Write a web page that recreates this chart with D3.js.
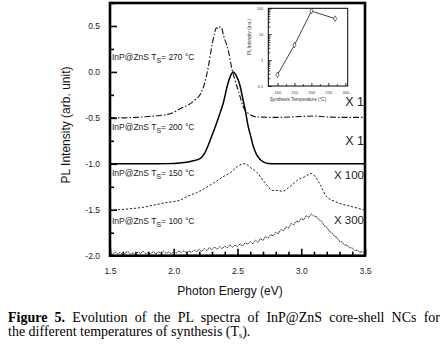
<!DOCTYPE html>
<html><head><meta charset="utf-8">
<script src="https://cdn.jsdelivr.net/npm/d3@7"></script>
<style>body{margin:0;background:#fff} svg{display:block}</style>
</head><body><svg id="c" width="446" height="352"></svg>
<script>
// ---------------- DATA ----------------
const energy270 = [1.50,1.60,1.70,1.80,1.89,2.00,2.05,2.13,2.17,2.21,2.245,2.27,2.30,2.32,2.335,2.35,2.36,2.375,2.39,2.43,2.455,2.48,2.51,2.545,2.585,2.65,2.80,3.00,3.10,3.20,3.35,3.50];
const intensity270 = [-0.50,-0.50,-0.495,-0.485,-0.475,-0.44,-0.40,-0.345,-0.30,-0.24,-0.11,0.05,0.29,0.42,0.48,0.47,0.49,0.48,0.40,0.22,0.04,-0.09,-0.22,-0.38,-0.45,-0.49,-0.495,-0.485,-0.48,-0.49,-0.495,-0.495];

const energy200 = [1.50,1.80,1.95,2.05,2.13,2.21,2.24,2.27,2.30,2.33,2.36,2.39,2.42,2.44,2.467,2.49,2.52,2.54,2.56,2.585,2.60,2.625,2.65,2.676,2.71,2.74,2.80,3.50];
const intensity200 = [-1.0,-1.0,-0.998,-0.99,-0.975,-0.94,-0.89,-0.80,-0.69,-0.58,-0.46,-0.33,-0.15,-0.06,0.0,-0.04,-0.15,-0.28,-0.41,-0.60,-0.68,-0.815,-0.90,-0.95,-0.985,-0.997,-1.0,-1.0];

const energy150 = [1.50,1.55,1.65,1.75,1.84,1.95,2.05,2.10,2.20,2.31,2.40,2.44,2.50,2.545,2.56,2.60,2.65,2.70,2.73,2.77,2.82,2.85,2.91,2.98,3.03,3.08,3.11,3.15,3.20,3.265,3.30,3.40,3.50];
const intensity150 = [-1.50,-1.50,-1.49,-1.475,-1.45,-1.42,-1.395,-1.36,-1.30,-1.21,-1.13,-1.10,-1.03,-1.0,-1.0,-1.04,-1.09,-1.18,-1.23,-1.29,-1.29,-1.30,-1.25,-1.17,-1.14,-1.105,-1.14,-1.23,-1.36,-1.41,-1.43,-1.467,-1.505];

const energy100 = [1.50,1.52,1.54,1.56,1.58,1.60,1.62,1.64,1.66,1.68,1.70,1.72,1.74,1.76,1.78,1.80,1.82,1.84,1.86,1.88,1.90,1.92,1.94,1.96,1.98,2.00,2.02,2.04,2.06,2.08,2.10,2.12,2.14,2.16,2.18,2.20,2.22,2.24,2.26,2.28,2.30,2.32,2.34,2.36,2.38,2.40,2.42,2.44,2.46,2.48,2.50,2.52,2.54,2.56,2.58,2.60,2.62,2.64,2.66,2.68,2.70,2.72,2.74,2.76,2.78,2.80,2.82,2.84,2.86,2.88,2.90,2.92,2.94,2.96,2.98,3.00,3.02,3.04,3.06,3.08,3.10,3.12,3.14,3.16,3.18,3.20,3.22,3.24,3.26,3.28,3.30,3.32,3.34,3.36,3.38,3.40,3.42,3.44,3.46,3.48,3.50];
const intensity100 = [-1.97,-1.985,-1.96,-1.98,-1.965,-1.99,-1.97,-1.955,-1.98,-1.97,-1.985,-1.96,-1.975,-1.95,-1.98,-1.965,-1.975,-1.955,-1.98,-1.96,-1.97,-1.95,-1.975,-1.96,-1.98,-1.955,-1.97,-1.95,-1.965,-1.945,-1.97,-1.95,-1.96,-1.94,-1.955,-1.93,-1.955,-1.92,-1.945,-1.91,-1.935,-1.905,-1.93,-1.90,-1.925,-1.895,-1.915,-1.88,-1.91,-1.885,-1.90,-1.87,-1.895,-1.86,-1.875,-1.845,-1.87,-1.83,-1.855,-1.815,-1.835,-1.79,-1.81,-1.77,-1.785,-1.745,-1.76,-1.715,-1.73,-1.685,-1.70,-1.65,-1.665,-1.625,-1.635,-1.595,-1.61,-1.565,-1.585,-1.545,-1.57,-1.575,-1.61,-1.625,-1.675,-1.69,-1.735,-1.75,-1.79,-1.80,-1.845,-1.85,-1.885,-1.885,-1.915,-1.915,-1.945,-1.94,-1.965,-1.955,-1.975];

const seriesLabels = ["InP@ZnS T|S|= 270 °C","InP@ZnS T|S|= 200 °C","InP@ZnS T|S|= 150 °C","InP@ZnS T|S|= 100 °C"];
const seriesLabelLevels = [0.135, -0.632, -1.138, -1.655];
const factorLabels = ["X 1","X 1","X 100","X 300"];
const factorLevels = [-0.37, -0.8, -1.17, -1.65];

const xMajorTicks = [1.5,2.0,2.5,3.0,3.5];
const yMajorTicks = [-2.0,-1.5,-1.0,-0.5,0.0,0.5];
const xAxisTitle = "Photon Energy (eV)";
const yAxisTitle = "PL Intensity (arb. unit)";

const insetTemps = [100,150,200,270];
const insetPL = [0.27,3.8,78,40];
const insetXTicks = [100,150,200,250,300];
const insetYTicks = [0.1,1,10,100];
const insetXTitle = "Synthesis Temperature (°C)";
const insetYTitle = "PL Intensity (a.u.)";

const captionBold = "Figure 5.";
const captionLine1 = " Evolution of the PL spectra of InP@ZnS core-shell NCs for";
const captionLine2a = "the different temperatures of synthesis (T";
const captionLine2sub = "s";
const captionLine2b = ").";

// ---------------- DRAW ----------------
const svg = d3.select("#c");
const sans = "'Liberation Sans', Arial, sans-serif";
const serif = "'Liberation Serif', 'Times New Roman', serif";
const L = 110, R = 365, T = 3, B = 255.7;
const x = d3.scaleLinear([1.5,3.5],[L,R]);
const y = d3.scaleLinear([-2,0.75],[B,T]);

svg.append("defs").append("clipPath").attr("id","clip")
  .append("rect").attr("x",L).attr("y",T).attr("width",R-L).attr("height",B-T);

const xMinor = d3.range(15,36).map(d=>d/10).filter(v=>!xMajorTicks.some(m=>Math.abs(m-v)<1e-9));
const yMinor = d3.range(-8,4).map(d=>d/4).filter(v=>!yMajorTicks.some(m=>Math.abs(m-v)<1e-9));

const gx = svg.append("g").attr("transform",`translate(0,${B})`)
  .call(d3.axisBottom(x).tickValues(xMajorTicks).tickSizeInner(-7).tickSizeOuter(0).tickPadding(12).tickFormat(d=>d.toFixed(1)));
const gxm = svg.append("g").attr("transform",`translate(0,${B})`)
  .call(d3.axisBottom(x).tickValues(xMinor).tickSizeInner(-4).tickSizeOuter(0).tickFormat(""));
const gy = svg.append("g").attr("transform",`translate(${L},0)`)
  .call(d3.axisLeft(y).tickValues(yMajorTicks).tickSizeInner(-7).tickSizeOuter(0).tickPadding(10).tickFormat(d=>d.toFixed(1)));
const gym = svg.append("g").attr("transform",`translate(${L},0)`)
  .call(d3.axisLeft(y).tickValues(yMinor).tickSizeInner(-4).tickSizeOuter(0).tickFormat(""));
[gx,gxm,gy,gym].forEach(g=>{
  g.select(".domain").remove();
  g.selectAll(".tick line").attr("stroke","#000").attr("stroke-width",1.6);
  g.selectAll("text").attr("font-family",sans).attr("font-size",8.5).attr("fill","#222");
});

const line = d3.line().x(d=>x(d[0])).y(d=>y(d[1]));
const plot = svg.append("g").attr("clip-path","url(#clip)");
plot.append("path").datum(d3.zip(energy270,intensity270))
  .attr("d",line.curve(d3.curveMonotoneX)).attr("fill","none").attr("stroke","#111")
  .attr("stroke-width",1.1).attr("stroke-dasharray","6,2,1.5,2");
plot.append("path").datum(d3.zip(energy200,intensity200))
  .attr("d",line.curve(d3.curveMonotoneX)).attr("fill","none").attr("stroke","#000").attr("stroke-width",1.5);
plot.append("path").datum(d3.zip(energy150,intensity150))
  .attr("d",line.curve(d3.curveMonotoneX)).attr("fill","none").attr("stroke","#222")
  .attr("stroke-width",1).attr("stroke-dasharray","2.2,1.8");
plot.append("path").datum(d3.zip(energy100,intensity100))
  .attr("d",line.curve(d3.curveLinear)).attr("fill","none").attr("stroke","#333")
  .attr("stroke-width",1).attr("stroke-dasharray","2,0.7");

svg.append("rect").attr("x",L).attr("y",T).attr("width",R-L).attr("height",B-T)
  .attr("fill","none").attr("stroke","#000").attr("stroke-width",2.6);

seriesLabels.forEach((s,i)=>{
  const parts = s.split("|");
  const t = svg.append("text").attr("x",L+2).attr("y",y(seriesLabelLevels[i]))
    .attr("font-family",sans).attr("font-size",8.5).attr("fill","#222");
  t.append("tspan").text(parts[0]);
  t.append("tspan").attr("dy",3).attr("font-size",7).text(parts[1]);
  t.append("tspan").attr("dy",-3).text(parts[2]);
});
factorLabels.forEach((s,i)=>{
  svg.append("text").attr("x",R-1).attr("y",y(factorLevels[i])).attr("text-anchor","end")
    .attr("font-family",sans).attr("font-size",i<2?12.5:11.5).attr("fill","#222").text(s);
});

svg.append("text").attr("x",230).attr("y",295).attr("text-anchor","middle")
  .attr("font-family",sans).attr("font-size",12).attr("fill","#111").text(xAxisTitle);
svg.append("text").attr("transform","translate(70,125) rotate(-90)").attr("text-anchor","middle")
  .attr("font-family",sans).attr("font-size",12).attr("fill","#111").text(yAxisTitle);

// ---------------- INSET ----------------
const iL = 268.3, iR = 347.7, iT = 8.3, iB = 86;
const xi = d3.scaleLinear([73,307],[iL,iR]);
const yi = d3.scaleLog([0.1,100],[iB,iT]);
svg.append("rect").attr("x",iL).attr("y",iT).attr("width",iR-iL).attr("height",iB-iT)
  .attr("fill","#fff").attr("stroke","#000").attr("stroke-width",1);
const ixMinor = [125,175,225,275];
const iyMinor = [];
[0.1,1,10].forEach(d=>{for(let k=2;k<10;k++) iyMinor.push(d*k);});
const gix = svg.append("g").attr("transform",`translate(0,${iB})`)
  .call(d3.axisBottom(xi).tickValues(insetXTicks).tickSizeInner(-3).tickSizeOuter(0).tickPadding(5).tickFormat(d3.format("d")));
const gixm = svg.append("g").attr("transform",`translate(0,${iB})`)
  .call(d3.axisBottom(xi).tickValues(ixMinor).tickSizeInner(-1.8).tickSizeOuter(0).tickFormat(""));
const giy = svg.append("g").attr("transform",`translate(${iL},0)`)
  .call(d3.axisLeft(yi).tickValues(insetYTicks).tickSizeInner(-3.5).tickSizeOuter(0).tickPadding(5).tickFormat(d=>String(d)));
const giym = svg.append("g").attr("transform",`translate(${iL},0)`)
  .call(d3.axisLeft(yi).tickValues(iyMinor).tickSizeInner(-2).tickSizeOuter(0).tickFormat(""));
[gix,gixm,giy,giym].forEach(g=>{
  g.select(".domain").remove();
  g.selectAll(".tick line").attr("stroke","#000").attr("stroke-width",0.8);
  g.selectAll("text").attr("font-family",sans).attr("font-size",4).attr("fill","#333");
});
const iline = d3.line().x(d=>xi(d[0])).y(d=>yi(d[1]));
svg.append("path").datum(d3.zip(insetTemps,insetPL)).attr("d",iline)
  .attr("fill","none").attr("stroke","#111").attr("stroke-width",0.8);
svg.append("g").selectAll("path").data(d3.zip(insetTemps,insetPL)).join("path")
  .attr("d",d3.symbol(d3.symbolDiamond,9))
  .attr("transform",d=>`translate(${xi(d[0])},${yi(d[1])})`)
  .attr("fill","#fff").attr("stroke","#111").attr("stroke-width",0.6);
svg.append("text").attr("x",298).attr("y",101).attr("text-anchor","middle")
  .attr("font-family",sans).attr("font-size",4.6).attr("fill","#333").text(insetXTitle);
svg.append("text").attr("transform",`translate(251,37) rotate(-90)`).attr("text-anchor","middle")
  .attr("font-family",sans).attr("font-size",4.6).attr("fill","#333").text(insetYTitle);

// ---------------- CAPTION ----------------
const capSize = 14;
const c1 = svg.append("text").attr("x",8).attr("y",321.5).attr("font-family",serif).attr("font-size",capSize)
  .attr("fill","#000");
c1.append("tspan").attr("font-weight","bold").text(captionBold);
c1.append("tspan").text(captionLine1);
const w1 = c1.node().getComputedTextLength();
const nSpaces = (captionBold + captionLine1).split(" ").length - 1;
if (w1 < 432) c1.attr("word-spacing", (432 - w1)/nSpaces);
else c1.attr("textLength",432).attr("lengthAdjust","spacingAndGlyphs");
const c2 = svg.append("text").attr("x",8).attr("y",335.5).attr("font-family",serif).attr("font-size",capSize).attr("fill","#000");
c2.append("tspan").text(captionLine2a);
c2.append("tspan").attr("dy",2.5).attr("font-size",8).text(captionLine2sub);
c2.append("tspan").attr("dy",-2.5).text(captionLine2b);
</script></body></html>
